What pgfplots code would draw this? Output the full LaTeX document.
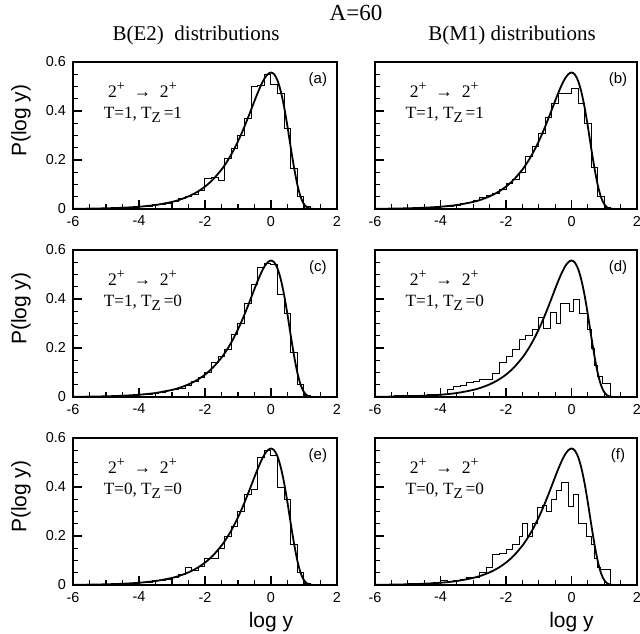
\documentclass[border=0pt]{standalone}
\usepackage{fontspec}
\setmainfont{Liberation Serif}
\setsansfont{Liberation Sans}
\usepackage{pgfplots}
\pgfplotsset{compat=1.18}

\pgfplotsset{
  panel/.style={
    scale only axis, width=132pt, height=73.5pt,
    xmin=-6, xmax=2, ymin=0, ymax=0.6,
    xtick={-6,-4,-2,0,2}, ytick={0,0.2,0.4,0.6},
    minor x tick num=3, minor y tick num=3,
    xtick pos=left, ytick pos=left, tick align=inside,
    major tick length=4.5pt, minor tick length=2.5pt,
    axis line style={line width=1.2pt},
    tick style={black, line width=0.6pt},
    ticklabel style={font=\sffamily\fontsize{7.2}{8}\selectfont},
    /pgf/number format/assume math mode=true,
    xticklabels={-6,-4,-2,0,2},
  },
  leftp/.style={panel, ylabel={P(log y)},
    ylabel style={at={(rel axis cs:-0.197,0.6)}, anchor=center,
      font=\sffamily\fontsize{10.5}{12}\selectfont}},
  rightp/.style={panel, yticklabels={}},
  bottomp/.style={xlabel={log y},
    xlabel style={at={(rel axis cs:0.75,-0.14)}, anchor=north,
      font=\sffamily\fontsize{10.5}{12}\selectfont}},
  curve/.style={black, line width=0.9pt, smooth},
  hist/.style={black, line width=0.5pt, const plot mark left},
}

% Porter-Thomas curve
\newcommand{\ptcurve}{\addplot[curve] coordinates {
 (-6,0.0009) (-5.5,0.0016) (-5,0.0029) (-4.5,0.0052) (-4,0.0092) (-3.5,0.0163)
 (-3,0.0290) (-2.75,0.0387) (-2.5,0.0516) (-2.25,0.0687) (-2,0.0914) (-1.75,0.1215)
 (-1.5,0.1608) (-1.4,0.1797) (-1.3,0.2005) (-1.2,0.2235) (-1.1,0.2488) (-1,0.2763)
 (-0.9,0.3060) (-0.8,0.3379) (-0.7,0.3713) (-0.6,0.4061) (-0.5,0.4410) (-0.4,0.4750)
 (-0.3,0.5059) (-0.2,0.5322) (-0.1,0.5499) (0,0.5571) (0.1,0.5493) (0.2,0.5236)
 (0.3,0.4784) (0.4,0.4147) (0.5,0.3362) (0.6,0.2493) (0.7,0.1678) (0.8,0.0984)
 (0.9,0.0488) (1.0,0.0196) (1.1,0.0060) (1.2,0.0013) (1.3,0.0002)};}

\newcommand{\plussup}{\raisebox{0.85ex}{\fontsize{7}{7}\selectfont +}}
\newcommand{\lab}[3]{%
  \node[anchor=west, font=\fontsize{8.8}{10}\selectfont] at (axis cs:-5.15,0.485) {2\plussup\ \ →\ \ 2\plussup};
  \node[anchor=west, font=\fontsize{8.6}{10}\selectfont] at (axis cs:-5.28,0.385) {T=#1, T\raisebox{-0.45ex}{\fontsize{7.5}{7}\selectfont Z}\,=#2};
  \node[font=\sffamily\fontsize{7.5}{9}\selectfont] at (axis cs:1.42,0.527) {(#3)};}

\begin{document}
\begin{tikzpicture}
\useasboundingbox (0,0) rectangle (320pt,316.5pt);

\node[font=\fontsize{11.5}{13}\selectfont] at (178pt,310pt) {A=60};
\node[font=\fontsize{10.5}{12}\selectfont] at (98pt,299pt) {B(E2)\ \ distributions};
\node[font=\fontsize{10.5}{12}\selectfont] at (256pt,299pt) {B(M1) distributions};

% (a)
\begin{axis}[leftp, at={(36.5pt,212pt)}]
\addplot[hist] coordinates {
 (-6,0) (-5,0.003) (-4.8,0.004) (-4.6,0.005) (-4.4,0.006) (-4.2,0.008) (-4,0.010)
 (-3.8,0.012) (-3.6,0.018) (-3.4,0.020) (-3.2,0.024) (-3,0.030) (-2.8,0.042)
 (-2.6,0.050) (-2.4,0.060) (-2.2,0.075) (-2,0.125) (-1.8,0.130) (-1.6,0.115)
 (-1.4,0.205) (-1.2,0.245) (-1,0.300) (-0.8,0.370) (-0.6,0.500) (-0.4,0.505)
 (-0.2,0.550) (0,0.510) (0.2,0.470) (0.4,0.330) (0.6,0.165) (0.8,0.050)
 (1,0.010) (1.2,0) (2,0)};
\ptcurve
\lab{1}{1}{a}
\end{axis}

% (b)
\begin{axis}[rightp, at={(187.5pt,212pt)}, width=131pt]
\addplot[hist] coordinates {
 (-6,0) (-5.2,0.002) (-4.8,0.004) (-4.4,0.006) (-4.2,0.007) (-4,0.009)
 (-3.8,0.012) (-3.6,0.015) (-3.4,0.022) (-3.2,0.025) (-3,0.035) (-2.8,0.045)
 (-2.6,0.055) (-2.4,0.062) (-2.2,0.080) (-2,0.105) (-1.8,0.120) (-1.6,0.150)
 (-1.4,0.215) (-1.2,0.255) (-1,0.310) (-0.8,0.375) (-0.6,0.430) (-0.4,0.470)
 (-0.2,0.470) (0,0.490) (0.2,0.430) (0.4,0.350) (0.6,0.170) (0.8,0.050)
 (1,0.008) (1.2,0) (2,0)};
\ptcurve
\lab{1}{1}{b}
\end{axis}

% (c)
\begin{axis}[leftp, at={(36.5pt,118pt)}]
\addplot[hist] coordinates {
 (-6,0) (-5,0.002) (-4.6,0.004) (-4.4,0.006) (-4.2,0.008) (-4,0.010)
 (-3.8,0.012) (-3.6,0.016) (-3.4,0.020) (-3.2,0.028) (-3,0.030) (-2.8,0.035)
 (-2.6,0.045) (-2.4,0.065) (-2.2,0.080) (-2,0.098) (-1.8,0.140) (-1.6,0.165)
 (-1.4,0.195) (-1.2,0.255) (-1,0.300) (-0.8,0.380) (-0.6,0.460) (-0.4,0.530)
 (-0.2,0.545) (0,0.540) (0.2,0.420) (0.4,0.340) (0.6,0.180) (0.8,0.050)
 (1,0.006) (1.2,0) (2,0)};
\ptcurve
\lab{1}{0}{c}
\end{axis}

% (d)
\begin{axis}[rightp, at={(187.5pt,118pt)}, width=131pt]
\addplot[hist] coordinates {
 (-6,0.003) (-5.4,0.005) (-4.8,0.007) (-4.4,0.009) (-4,0.012) (-3.8,0.030)
 (-3.6,0.042) (-3.4,0.048) (-3.2,0.060) (-3,0.062) (-2.8,0.070) (-2.6,0.072)
 (-2.4,0.095) (-2.2,0.140) (-2,0.165) (-1.8,0.195) (-1.6,0.235) (-1.4,0.250)
 (-1.2,0.275) (-1,0.325) (-0.85,0.280) (-0.65,0.345) (-0.45,0.300) (-0.35,0.380)
 (-0.05,0.350) (0.05,0.400) (0.25,0.340) (0.5,0.275) (0.6,0.200) (0.7,0.130)
 (0.8,0.085) (0.95,0.057) (1.2,0) (2,0)};
\ptcurve
\lab{1}{0}{d}
\end{axis}

% (e)
\begin{axis}[leftp, bottomp, at={(36.5pt,24pt)}]
\addplot[hist] coordinates {
 (-6,0) (-4.8,0.003) (-4.4,0.006) (-4.2,0.008) (-4,0.009) (-3.8,0.011)
 (-3.6,0.018) (-3.4,0.020) (-3.2,0.022) (-3,0.030) (-2.8,0.042) (-2.6,0.070)
 (-2.4,0.060) (-2.2,0.075) (-2,0.110) (-1.8,0.110) (-1.6,0.150) (-1.4,0.200)
 (-1.2,0.240) (-1,0.300) (-0.8,0.370) (-0.6,0.390) (-0.4,0.520) (-0.2,0.550)
 (0,0.530) (0.2,0.400) (0.4,0.350) (0.6,0.165) (0.8,0.050) (1,0.006)
 (1.2,0) (2,0)};
\ptcurve
\lab{0}{0}{e}
\end{axis}

% (f)
\begin{axis}[rightp, bottomp, at={(187.5pt,24pt)}, width=131pt]
\addplot[hist] coordinates {
 (-6,0.002) (-5.4,0.004) (-5,0.006) (-4.4,0.008) (-4.2,0.012) (-4,0.018)
 (-3.8,0.016) (-3.6,0.020) (-3.4,0.024) (-3.2,0.030) (-3,0.032) (-2.8,0.050)
 (-2.6,0.070) (-2.4,0.125) (-2.2,0.130) (-2,0.145) (-1.8,0.165) (-1.6,0.200)
 (-1.5,0.250) (-1.35,0.200) (-1.2,0.250) (-1.05,0.316) (-0.9,0.325) (-0.75,0.300)
 (-0.6,0.350) (-0.45,0.384) (-0.3,0.420) (-0.1,0.320) (0.05,0.370) (0.2,0.250)
 (0.45,0.200) (0.6,0.165) (0.7,0.110) (0.8,0.070) (0.9,0.064) (1.2,0) (2,0)};
\ptcurve
\lab{0}{0}{f}
\end{axis}
\end{tikzpicture}
\end{document}
